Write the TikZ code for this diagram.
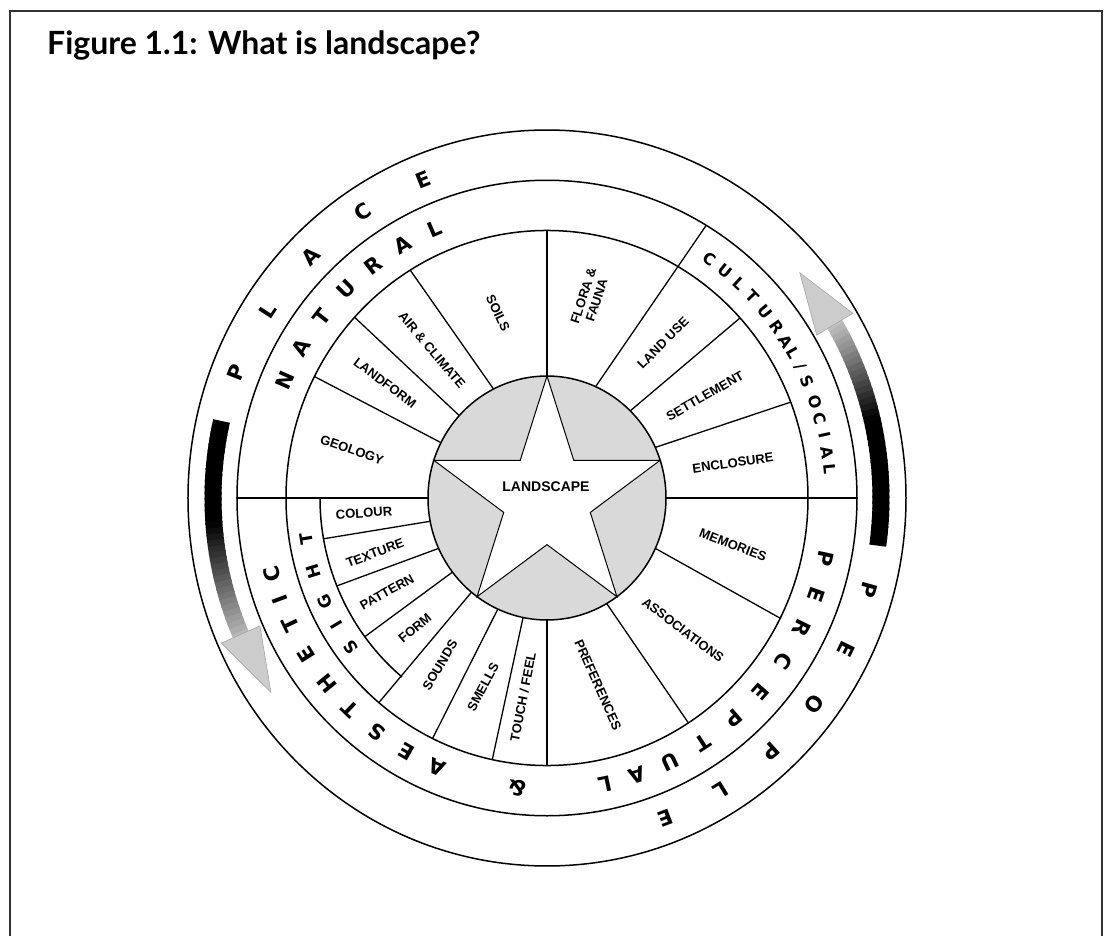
\documentclass[tikz,border=0pt]{standalone}
\usepackage{fontspec}
\setmainfont{Liberation Sans}
\newfontfamily\titlefont{Lato}
\newfontfamily\ringfont{DejaVu Sans}
\newcommand\slashchar{/}
\begin{document}
\begin{tikzpicture}[x=1pt,y=1pt,
  ring/.style={line width=1.5pt},
  spoke/.style={line width=1.3pt},
  lbl/.style={font=\fontsize{13}{14}\selectfont\bfseries, inner sep=0pt, align=center},
  ringl/.style={font=\ringfont\fontsize{21}{21}\selectfont\bfseries, inner sep=0pt},
  smallringl/.style={font=\ringfont\fontsize{16}{16}\selectfont\bfseries, inner sep=0pt},
  sightl/.style={font=\ringfont\fontsize{17}{17}\selectfont\bfseries, inner sep=0pt},
  arrowhd/.style={fill=black!20, draw=black!35, line width=0.6pt}
]
\useasboundingbox (-547,-437) rectangle (558,498);
% frame
\draw[line width=2.5pt, black!80] (-537,-445) -- (-537,487) -- (555,487) -- (555,-445);
\node[anchor=base west, inner sep=0pt, font=\titlefont\bfseries\fontsize{32}{32}\selectfont] (title) at (-500,443) {Figure 1.1: What is landscape?};

\begin{scope}[yscale=1.025]
  % inner disc and star
  \fill[black!15] (0,0) circle[radius=119pt];
  \draw[fill=white, line width=1pt] (90:119pt) -- (126:45.5pt) -- (162:119pt) -- (198:45.5pt) -- (234:119pt) -- (270:45.5pt) -- (306:119pt) -- (342:45.5pt) -- (18:119pt) -- (54:45.5pt) -- cycle;
  % rings
  \draw[ring] (0,0) circle[radius=119pt];
  \draw[ring] (0,0) circle[radius=261pt];
  \draw[ring] (0,0) circle[radius=310pt];
  \draw[ring] (0,0) circle[radius=359pt];
  \draw[ring] (180:227pt) arc[start angle=180, end angle=230.3, radius=227pt];
  % spokes upper left
  \draw[spoke] (153:119pt) -- (153:261pt);
  \draw[spoke] (137.5:119pt) -- (137.5:261pt);
  \draw[spoke] (116.7:119pt) -- (121.6:261pt);
  \draw[spoke] (90:119pt) -- (90:261pt);
  % upper right
  \draw[spoke] (65.9:119pt) -- (59.1:310pt);
  \draw[spoke] (45.6:119pt) -- (42.3:261pt);
  \draw[spoke] (24.5:119pt) -- (21:261pt);
  \draw[spoke] (0:119pt) -- (0:310pt);
  % lower right
  \draw[spoke] (-24.4:119pt) -- (-26.7:261pt);
  \draw[spoke] (-59.9:119pt) -- (-57.2:261pt);
  \draw[spoke] (-90:119pt) -- (-90:261pt);
  % lower left
  \draw[spoke] (180:119pt) -- (180:310pt);
  \draw[spoke] (191:119pt) -- (190.1:227pt);
  \draw[spoke] (204.4:119pt) -- (202.2:227pt);
  \draw[spoke] (217.4:119pt) -- (216.6:227pt);
  \draw[spoke] (230.6:119pt) -- (229.9:261pt);
  \draw[spoke] (245.6:119pt) -- (244:261pt);
  \draw[spoke] (258.4:119pt) -- (257.9:261pt);
  % arrows
  \foreach \a in {167,168,...,203} {
    \pgfmathsetmacro\t{(\a-167)/37}
    \pgfmathtruncatemacro\p{\t<0.45 ? 100 : 100-(\t-0.45)/0.55*75}
    \draw[line width=17pt, black!\p] (\a:334pt) arc[start angle=\a, end angle=\a+1.4, radius=334pt];
  }
  \draw[arrowhd] (203.5:355pt) -- (214.5:335pt) -- (203.5:313pt) -- cycle;
  \foreach \a in {-8,-7,...,30} {
    \pgfmathsetmacro\t{(30-\a)/38}
    \pgfmathtruncatemacro\p{\t<0.45 ? 100-(0.45-\t)/0.45*75 : 100}
    \draw[line width=17pt, black!\p] (\a:334pt) arc[start angle=\a, end angle=\a+1.4, radius=334pt];
  }
  \draw[arrowhd] (30.5:355pt) -- (41:335pt) -- (30.5:313pt) -- cycle;
  % outer ring letters
  \foreach \a/\l [count=\i] in {158.5/P,146.8/L,135.1/A,123.4/C,111.7/E}
    \node[ringl, rotate=\a-90] (place\i) at (\a:334pt) {\l};
  \foreach \a/\l [count=\i] in {-15.5/P,-26.2/E,-37/O,-47.8/P,-58.6/L,-69.3/E}
    \node[ringl, rotate=\a-90] (people\i) at (\a:334pt) {\l};
  % third ring letters
  \foreach \a/\l [count=\i] in {156.3/N,149.1/A,141.9/T,134.7/U,127.5/R,120.3/A,113.1/L}
    \node[ringl, rotate=\a-90] (natural\i) at (\a:286pt) {\l};
  \foreach \a/\l [count=\i] in {55.1/C,51.1/U,47.4/L,43.7/T,39.7/U,35.9/R,32.6/A,29.8/L,26.8/\slashchar,23.5/S,19.2/O,15.9/C,12.4/I,9.0/A,5.8/L}
    \node[smallringl, rotate=\a-90] (cultural\i) at (\a:284pt) {\l};
  \foreach \a/\l [count=\i] in {-12/P,-19.3/E,-26.5/R,-34/C,-41.5/E,-49/P,-57/T,-64.5/U,-71.5/A,-78.3/L,-96/\&,-112.7/A,-119.6/E,-126.7/S,-133.7/T,-140.6/H,-147.6/E,-154.3/T,-159.6/I,-165/C}
    \node[ringl, rotate=\a-90] (perceptual\i) at (\a:285pt) {\l};
  \foreach \a/\l [count=\i] in {189.5/T,197/H,204.5/G,210.5/I,216.5/S}
    \node[sightl, rotate=\a-90] (sight\i) at (\a:244pt) {\l};
\end{scope}

% sector labels
\node[font=\fontsize{14}{14}\selectfont\bfseries, inner sep=0pt] (landscape) at (-1,11) {LANDSCAPE};
\node[lbl, rotate=-19] (geology) at (-195,48) {GEOLOGY};
\node[lbl, rotate=-37] (landform) at (-162,115) {LANDFORM};
\node[lbl, rotate=-50] (air) at (-115,148) {AIR \& CLIMATE};
\node[lbl, rotate=-65] (soils) at (-49,185) {SOILS};
\node[lbl, rotate=72] (flora) at (43,200) {FLORA \&\\FAUNA};
\node[lbl, rotate=45] (landuse) at (116,155) {LAND USE};
\node[lbl, rotate=30] (settlement) at (158,102) {SETTLEMENT};
\node[lbl, rotate=8] (enclosure) at (186,35) {ENCLOSURE};
\node[lbl, rotate=-21] (memories) at (186,-47) {MEMORIES};
\node[lbl, rotate=-37] (associations) at (136,-132) {ASSOCIATIONS};
\node[lbl, rotate=-66] (preferences) at (51,-187) {PREFERENCES};
\node[lbl, rotate=79] (touch) at (-24,-199) {TOUCH / FEEL};
\node[lbl, rotate=62] (smells) at (-64,-189) {SMELLS};
\node[lbl, rotate=59] (sounds) at (-107,-167) {SOUNDS};
\node[lbl, rotate=40] (form) at (-132,-130) {FORM};
\node[lbl, rotate=29] (pattern) at (-160,-94) {PATTERN};
\node[lbl, rotate=21] (texture) at (-172,-55) {TEXTURE};
\node[lbl, rotate=4] (colour) at (-183,-15) {COLOUR};
\end{tikzpicture}
\end{document}
